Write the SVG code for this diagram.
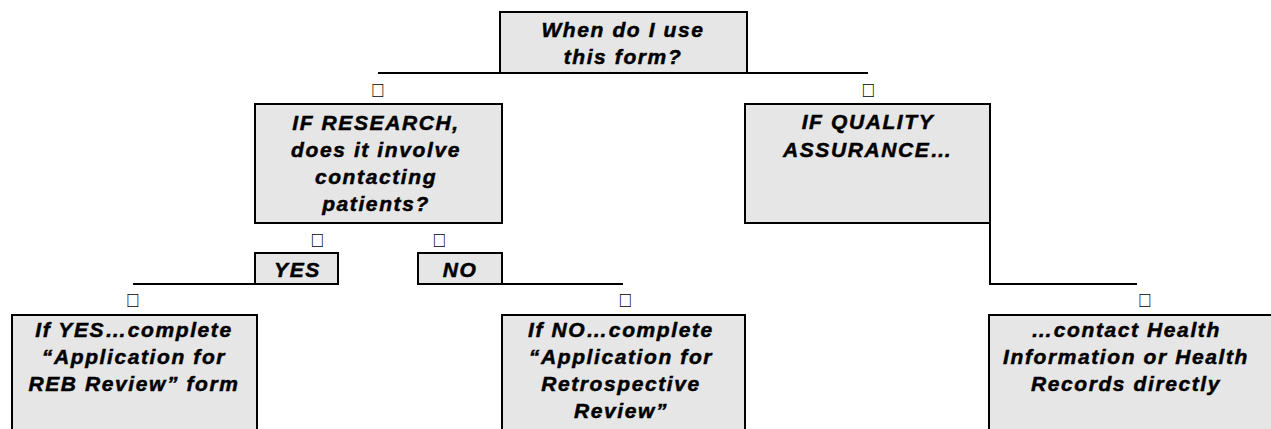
<svg xmlns="http://www.w3.org/2000/svg" width="1271" height="429" viewBox="0 0 1271 429">
<style>
.box{fill:#e6e6e6;stroke:#000;stroke-width:2}
.ln{fill:none;stroke:#000;stroke-width:2}
.t{font-family:"Liberation Sans",Arial,sans-serif;font-size:21px;font-weight:bold;font-style:italic;fill:#000;stroke:#000;stroke-width:0.5;text-anchor:middle;letter-spacing:1.6px}
.m{font-family:"Liberation Sans",Arial,sans-serif;font-size:19px;fill:#000;text-anchor:middle}
</style>
<rect width="1271" height="429" fill="#fff"/>
<g id="connectors">
<polyline class="ln" points="378,73 868,73"/>
<polyline class="ln" points="133,284 255,284"/>
<polyline class="ln" points="502,284 623,284"/>
<polyline class="ln" points="990,223 990,284 1137,284"/>
<text class="m" x="377.5" y="97">&#xF0E2;</text>
<text class="m" x="868" y="97">&#xF0E2;</text>
<text class="m" x="317" y="247">&#xF0E2;</text>
<text class="m" x="439" y="247">&#xF0E2;</text>
<text class="m" x="132.5" y="307">&#xF0E2;</text>
<text class="m" x="625" y="307">&#xF0E2;</text>
<text class="m" x="1144.5" y="307">&#xF0E2;</text>
</g>
<g id="n-when">
<rect class="box" x="500" y="12" width="247" height="61"/>
<text class="t" x="623" y="37">When do I use</text>
<text class="t" x="623" y="64">this form?</text>
</g>
<g id="n-research">
<rect class="box" x="255" y="104" width="247" height="119"/>
<text class="t" x="376" y="130">IF RESEARCH,</text>
<text class="t" x="376" y="157">does it involve</text>
<text class="t" x="376" y="184">contacting</text>
<text class="t" x="376" y="211">patients?</text>
</g>
<g id="n-qa">
<rect class="box" x="745" y="104" width="245" height="119"/>
<text class="t" x="868" y="129">IF QUALITY</text>
<text class="t" x="868" y="157">ASSURANCE…</text>
</g>
<g id="n-yes">
<rect class="box" x="255" y="253" width="83" height="31"/>
<text class="t" x="297.5" y="277">YES</text>
</g>
<g id="n-no">
<rect class="box" x="418" y="253" width="84" height="31"/>
<text class="t" x="460" y="277">NO</text>
</g>
<g id="n-reb">
<rect class="box" x="12" y="315" width="245" height="130"/>
<text class="t" x="134" y="337">If YES…complete</text>
<text class="t" x="134" y="364">“Application for</text>
<text class="t" x="134" y="391">REB Review” form</text>
</g>
<g id="n-retro">
<rect class="box" x="502" y="315" width="243" height="130"/>
<text class="t" x="621" y="337">If NO…complete</text>
<text class="t" x="621" y="364">“Application for</text>
<text class="t" x="621" y="391">Retrospective</text>
<text class="t" x="621" y="418">Review”</text>
</g>
<g id="n-health">
<rect class="box" x="989" y="315" width="300" height="130"/>
<text class="t" x="1126" y="337">…contact Health</text>
<text class="t" x="1126" y="364">Information or Health</text>
<text class="t" x="1126" y="391">Records directly</text>
</g>
</svg>
